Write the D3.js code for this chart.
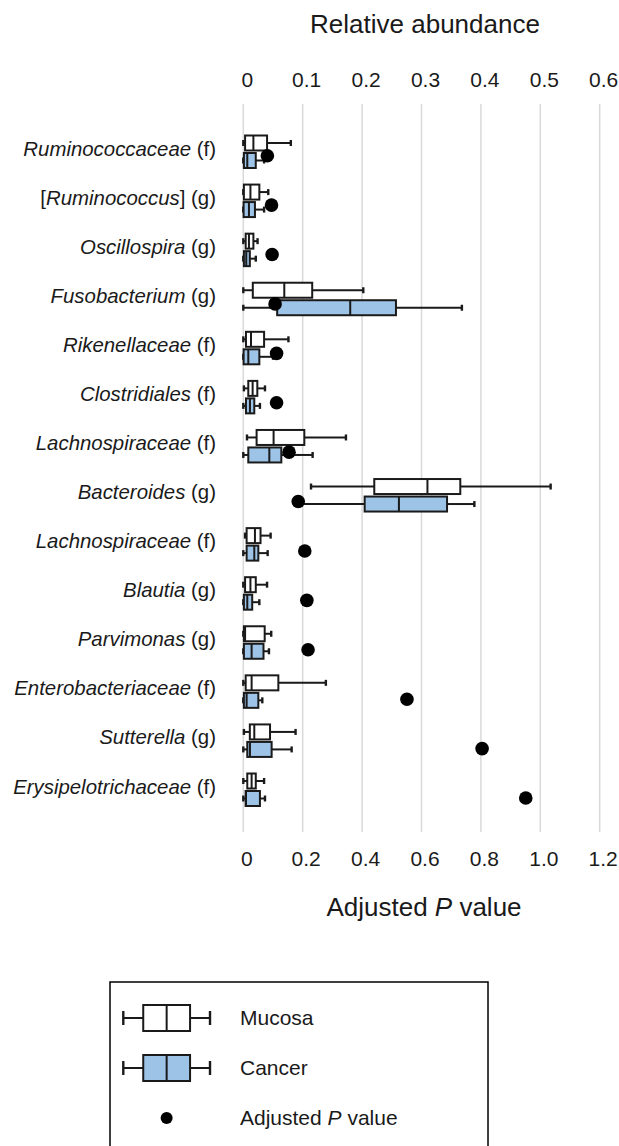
<!DOCTYPE html>
<html>
<head>
<meta charset="utf-8">
<script src="https://cdn.jsdelivr.net/npm/d3@7"></script>
<style>
  body { margin: 0; background: #fff; }
  svg { display: block; font-family: "Liberation Sans", Arial, sans-serif; }
</style>
</head>
<body>
<div id="chart"></div>
<script>
// row labels: prefix (upright), taxon (italic), suffix (upright)
const labelPre = ["", "[", "", "", "", "", "", "", "", "", "", "", "", ""];
const labelName = ["Ruminococcaceae", "Ruminococcus", "Oscillospira", "Fusobacterium",
  "Rikenellaceae", "Clostridiales", "Lachnospiraceae", "Bacteroides", "Lachnospiraceae",
  "Blautia", "Parvimonas", "Enterobacteriaceae", "Sutterella", "Erysipelotrichaceae"];
const labelPost = [" (f)", "] (g)", " (g)", " (g)", " (f)", " (f)", " (f)", " (g)",
  " (f)", " (g)", " (g)", " (f)", " (g)", " (f)"];

// [min, q1, median, q3, max] relative abundance
const mucosa = [
  [0, 0.003, 0.017, 0.040, 0.080],
  [0, 0.001, 0.012, 0.027, 0.042],
  [0, 0.004, 0.0095, 0.017, 0.024],
  [0, 0.016, 0.069, 0.116, 0.202],
  [0, 0.0045, 0.013, 0.035, 0.076],
  [0.001, 0.0084, 0.0157, 0.0236, 0.0365],
  [0.0062, 0.0224, 0.051, 0.1027, 0.1728],
  [0.114, 0.2205, 0.310, 0.3653, 0.5174],
  [0.003, 0.0056, 0.0196, 0.029, 0.046],
  [0, 0.003, 0.012, 0.021, 0.040],
  [0, 0.001, 0.003, 0.036, 0.047],
  [0, 0.004, 0.014, 0.059, 0.139],
  [0.001, 0.011, 0.0185, 0.045, 0.088],
  [0, 0.0067, 0.014, 0.021, 0.035]
];
const cancer = [
  [0, 0.001, 0.0067, 0.021, 0.035],
  [0, 0.0005, 0.0095, 0.0196, 0.035],
  [0, 0.001, 0.005, 0.011, 0.021],
  [0, 0.057, 0.180, 0.257, 0.368],
  [0, 0.0005, 0.0084, 0.027, 0.05],
  [0, 0.0045, 0.0112, 0.0185, 0.028],
  [0, 0.0084, 0.0438, 0.064, 0.1167],
  [0.09, 0.2043, 0.262, 0.343, 0.389],
  [0, 0.0056, 0.0185, 0.0253, 0.041],
  [0, 0.001, 0.0067, 0.015, 0.027],
  [0, 0.001, 0.014, 0.034, 0.0432],
  [0, 0.001, 0.0056, 0.0253, 0.032],
  [0, 0.0067, 0.0112, 0.0477, 0.0814],
  [0, 0.0039, 0.0045, 0.028, 0.0365]
];
const pValues = [0.081, 0.095, 0.097, 0.107, 0.112, 0.112, 0.154, 0.185, 0.207,
  0.214, 0.218, 0.551, 0.804, 0.951];

const abundanceTicks = [0, 0.1, 0.2, 0.3, 0.4, 0.5, 0.6];
const pTicks = [0, 0.2, 0.4, 0.6, 0.8, 1.0, 1.2];

const legendItems = ["Mucosa", "Cancer"];

const width = 619, height = 1146;
const blue = "#9dc3e6";
const ink = "#1a1a1a";

const svg = d3.select("#chart").append("svg")
  .attr("width", width).attr("height", height);

const x = d3.scaleLinear().domain([0, 0.6]).range([243.3, 599.7]);
const xp = d3.scaleLinear().domain([0, 1.2]).range([243.3, 599.7]);
const rows = d3.range(labelName.length);
const yBox = d3.scalePoint().domain(rows).range([151.5, 789.5]);
const yDot = d3.scalePoint().domain(rows).range([155.7, 798]);

// gridlines
svg.append("g")
  .selectAll("line")
  .data(abundanceTicks)
  .join("line")
  .attr("x1", d => x(d)).attr("x2", d => x(d))
  .attr("y1", 104).attr("y2", 832)
  .attr("stroke", "#d9d9d9")
  .attr("stroke-width", 1.5);

const fmt = d => d === 0 ? "0" : d3.format(".1f")(d);

// top axis
const topAxis = svg.append("g")
  .attr("transform", "translate(0,87)")
  .call(d3.axisTop(x).tickValues(abundanceTicks).tickFormat(fmt).tickSize(0).tickPadding(0));
topAxis.select(".domain").remove();
topAxis.selectAll("text")
  .attr("font-size", 21).attr("font-family", null)
  .attr("fill", ink).attr("dx", 3.5);

// bottom axis
const bottomAxis = svg.append("g")
  .attr("transform", "translate(0,866)")
  .call(d3.axisBottom(xp).tickValues(pTicks).tickFormat(fmt).tickSize(0).tickPadding(0));
bottomAxis.select(".domain").remove();
bottomAxis.selectAll("text")
  .attr("font-size", 21).attr("font-family", null)
  .attr("fill", ink).attr("y", 0).attr("dy", 0).attr("dx", 3);

// axis titles
svg.append("text")
  .attr("x", 425).attr("y", 33)
  .attr("text-anchor", "middle")
  .attr("font-size", 26).attr("fill", ink)
  .text("Relative abundance");

const pTitle = svg.append("text")
  .attr("x", 424).attr("y", 916)
  .attr("text-anchor", "middle")
  .attr("font-size", 26).attr("fill", ink);
pTitle.append("tspan").text("Adjusted ");
pTitle.append("tspan").attr("font-style", "italic").text("P");
pTitle.append("tspan").text(" value");

// row labels
const labels = svg.append("g")
  .selectAll("text")
  .data(rows)
  .join("text")
  .attr("x", 216)
  .attr("y", i => yBox(i) + 4)
  .attr("text-anchor", "end")
  .attr("font-size", 20.4)
  .attr("fill", ink);
labels.append("tspan").text(i => labelPre[i]);
labels.append("tspan").attr("font-style", "italic").text(i => labelName[i]);
labels.append("tspan").text(i => labelPost[i]);

// box plot drawing
const boxH = 15;
function drawBox(g, s, xs, yTop, h, fill, capH) {
  const yc = yTop + h / 2;
  g.append("line")
    .attr("x1", xs(s[0])).attr("x2", xs(s[1]))
    .attr("y1", yc).attr("y2", yc);
  g.append("line")
    .attr("x1", xs(s[3])).attr("x2", xs(s[4]))
    .attr("y1", yc).attr("y2", yc);
  g.append("line")
    .attr("x1", xs(s[0])).attr("x2", xs(s[0]))
    .attr("y1", yc - capH / 2).attr("y2", yc + capH / 2)
    .attr("stroke-width", 2.4);
  g.append("line")
    .attr("x1", xs(s[4])).attr("x2", xs(s[4]))
    .attr("y1", yc - capH / 2).attr("y2", yc + capH / 2)
    .attr("stroke-width", 2.4);
  g.append("rect")
    .attr("x", xs(s[1])).attr("y", yTop)
    .attr("width", Math.max(xs(s[3]) - xs(s[1]), 0.5))
    .attr("height", h)
    .attr("fill", fill);
  g.append("line")
    .attr("x1", xs(s[2])).attr("x2", xs(s[2]))
    .attr("y1", yTop).attr("y2", yTop + h);
}

const boxes = svg.append("g")
  .attr("stroke", ink)
  .attr("stroke-width", 2);

rows.forEach(i => {
  const b = yBox(i);
  drawBox(boxes.append("g"), mucosa[i], x, b - 16, boxH, "#fff", 6);
  drawBox(boxes.append("g"), cancer[i], x, b + 1.5, boxH, blue, 6);
});

// p value dots
svg.append("g")
  .selectAll("circle")
  .data(rows)
  .join("circle")
  .attr("cx", i => xp(pValues[i]))
  .attr("cy", i => yDot(i))
  .attr("r", 6.8)
  .attr("fill", "#000");

// legend
const legend = svg.append("g");
legend.append("rect")
  .attr("x", 110).attr("y", 982)
  .attr("width", 378).attr("height", 200)
  .attr("fill", "none")
  .attr("stroke", "#000")
  .attr("stroke-width", 1.5);

const legendScale = d3.scaleLinear().domain([0, 1]).range([123.3, 210]);
const legendStats = [0, 0.23, 0.5, 0.77, 1];
const legendY = d3.scalePoint().domain([0, 1, 2]).range([1018, 1118]);

legendItems.forEach((name, k) => {
  const g = legend.append("g").attr("stroke", ink).attr("stroke-width", 2);
  drawBox(g, legendStats, legendScale, legendY(k) - 13, 26, k === 0 ? "#fff" : blue, 14);
  legend.append("text")
    .attr("x", 240).attr("y", legendY(k) + 7)
    .attr("font-size", 21).attr("fill", ink)
    .text(name);
});

legend.append("circle")
  .attr("cx", legendScale(0.5)).attr("cy", legendY(2))
  .attr("r", 6).attr("fill", "#000");
const lt = legend.append("text")
  .attr("x", 240).attr("y", legendY(2) + 7)
  .attr("font-size", 21).attr("fill", ink);
lt.append("tspan").text("Adjusted ");
lt.append("tspan").attr("font-style", "italic").text("P");
lt.append("tspan").text(" value");
</script>
</body>
</html>
